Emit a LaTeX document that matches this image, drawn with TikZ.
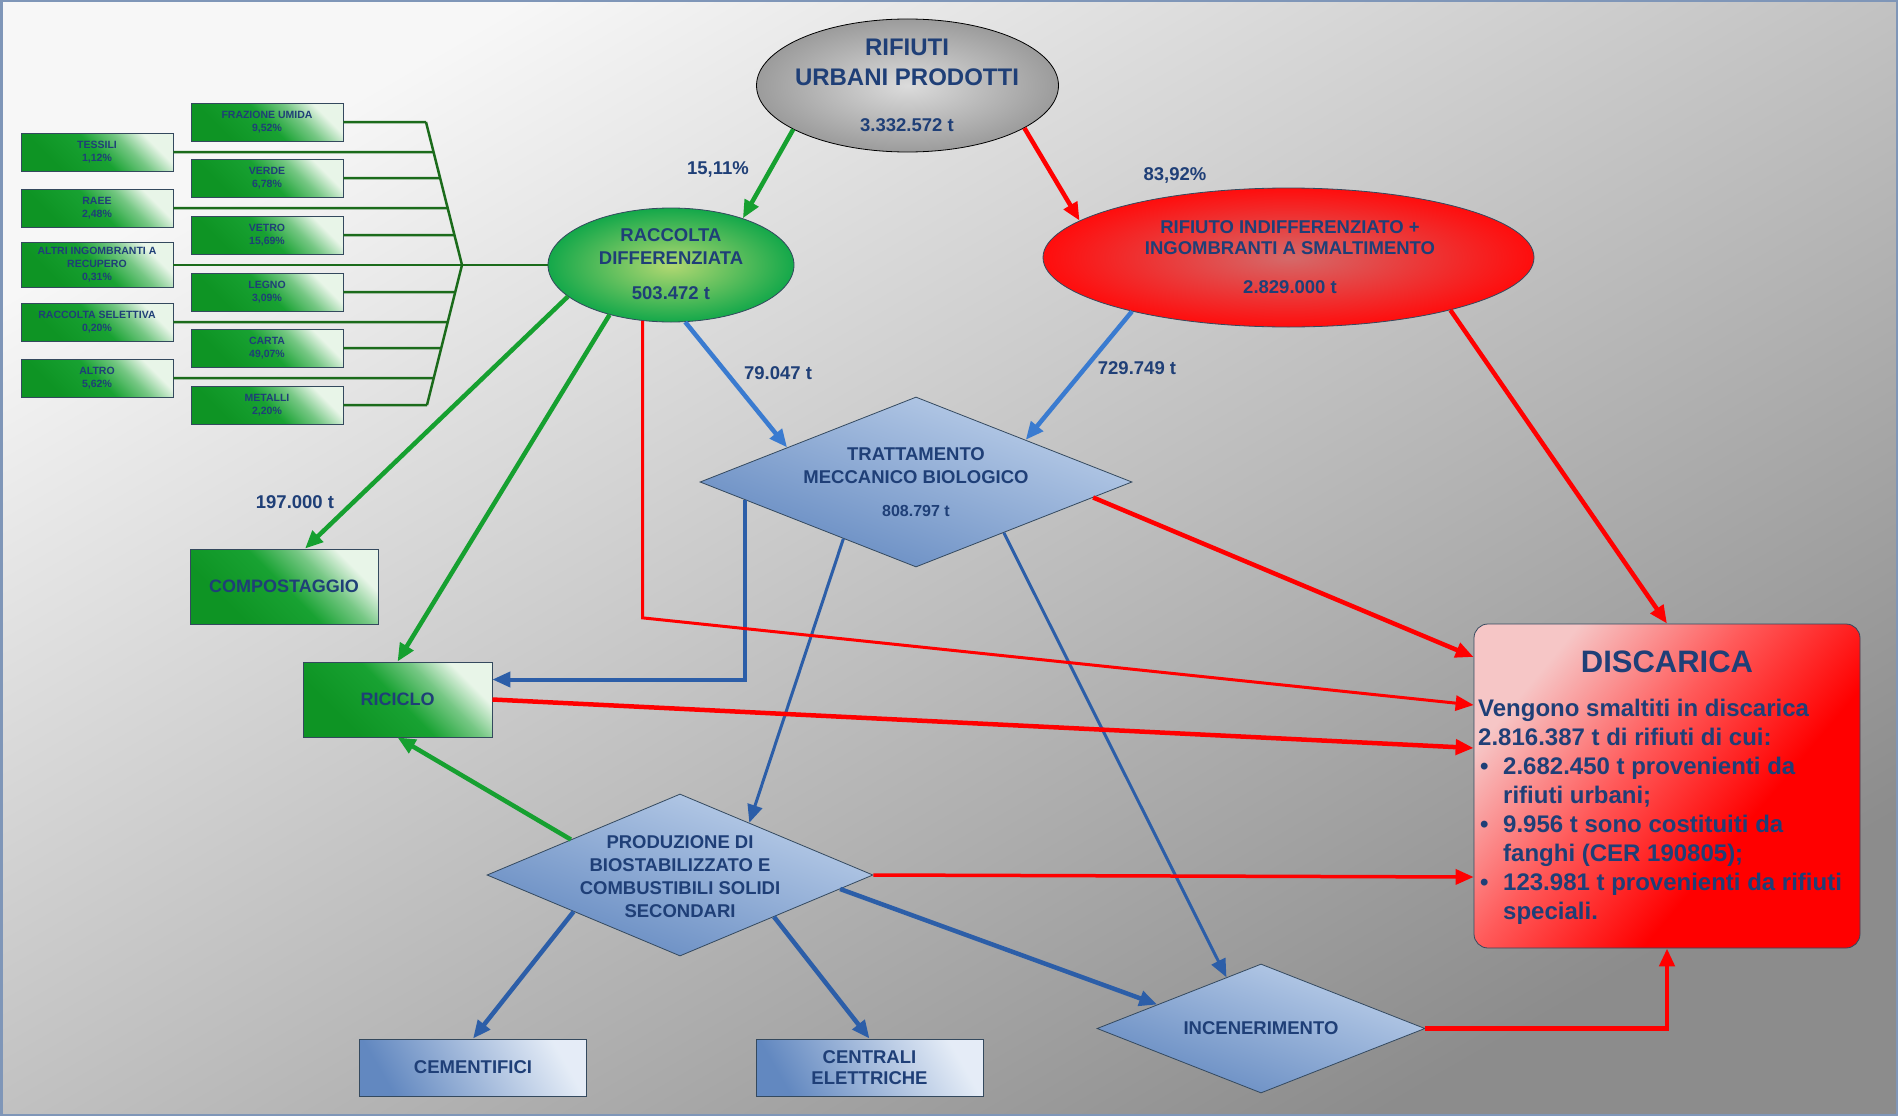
\documentclass[tikz,border=0pt]{standalone}
\usepackage{fontspec}
\setmainfont{Liberation Sans}
\usetikzlibrary{shapes.geometric,arrows.meta,calc,intersections}

\definecolor{txtBlue}{HTML}{1F3F77}
\definecolor{arrGreen}{HTML}{16A030}
\definecolor{arrRed}{HTML}{FF0000}
\definecolor{arrBlue}{HTML}{3A7BD0}
\definecolor{arrBlueD}{HTML}{2C5EA8}
\definecolor{branchGreen}{HTML}{1B6B1B}
\definecolor{boxGreen}{HTML}{18A232}
\definecolor{boxGreenD}{HTML}{0E9424}
\definecolor{boxGreenL}{HTML}{E8F5E8}
\definecolor{diaBlue}{HTML}{6288C0}
\definecolor{diaBlueL}{HTML}{BDD0EA}
\definecolor{edgeDark}{HTML}{34495E}
\definecolor{frameBlue}{HTML}{7F96B8}
\definecolor{bgLight}{HTML}{F7F7F7}
\definecolor{bgMid}{HTML}{DEDEDE}
\definecolor{bgDark}{HTML}{8C8C8C}
\definecolor{raccIn}{HTML}{B2D872}
\definecolor{raccOut}{HTML}{14A84A}
\definecolor{indIn}{HTML}{D46A6A}
\definecolor{indOut}{HTML}{FF0D0D}
\definecolor{discLight}{HTML}{F6C6C6}
\definecolor{discMid}{HTML}{FF5A5A}

% light corner only in the upper right
\pgfdeclareverticalshading{greenShade}{100bp}{color(0bp)=(boxGreenD); color(30bp)=(boxGreenD); color(50bp)=(boxGreen); color(63bp)=(boxGreen!55!boxGreenL); color(74bp)=(boxGreenL); color(100bp)=(boxGreenL)}
\pgfdeclareverticalshading{discShade}{100bp}{color(0bp)=(arrRed); color(38bp)=(arrRed); color(56bp)=(discMid); color(74bp)=(discLight); color(100bp)=(discLight)}

\begin{document}
\begin{tikzpicture}[x=1pt,y=-1pt,
  every node/.style={align=center,text=txtBlue},
  oval/.style={ellipse,inner sep=0pt,line width=0.8pt},
  greenBox/.style={draw=edgeDark,line width=0.8pt,rectangle,inner sep=0pt,shading=greenShade,shading angle=-45,font=\bfseries\fontsize{18}{21}\selectfont},
  smallBox/.style={greenBox,minimum width=152pt,minimum height=38pt,font=\bfseries\fontsize{10.5}{13}\selectfont},
  blueBox/.style={draw=edgeDark,line width=0.8pt,rectangle,inner sep=0pt,left color=diaBlue,right color=diaBlueL!40!white,shading angle=120,minimum width=227pt,minimum height=57pt,font=\bfseries\fontsize{18.5}{21}\selectfont},
  blueDiamond/.style={draw=edgeDark,line width=0.8pt,diamond,inner sep=0pt,top color=diaBlueL,bottom color=diaBlue,shading angle=-20},
  discBox/.style={draw=edgeDark,line width=0.8pt,rectangle,rounded corners=14pt,inner sep=0pt,minimum width=386pt,minimum height=324pt,shading=discShade,shading angle=50},
  txt/.style={inner sep=0pt,font=\bfseries\fontsize{18.5}{23}\selectfont},
  lbl/.style={inner sep=0pt,font=\bfseries\fontsize{18.5}{22}\selectfont},
  greenArrow/.style={->,>={Triangle[length=18pt,width=15pt]},line width=4.5pt,draw=arrGreen},
  redArrow/.style={->,>={Triangle[length=18pt,width=15pt]},line width=4.5pt,draw=arrRed},
  redMid/.style={redArrow,line width=3.5pt},
  redThin/.style={redArrow,line width=3pt},
  blueArrow/.style={->,>={Triangle[length=18pt,width=15pt]},line width=4.5pt,draw=arrBlue},
  blueDark/.style={blueArrow,draw=arrBlueD},
  blueMid/.style={blueDark,line width=4pt},
  blueThin/.style={blueDark,line width=3pt},
  branchLine/.style={line width=2.5pt,draw=branchGreen}]

  \useasboundingbox (0,0) rectangle (1898,1116);
  \shade[top color=bgLight,middle color=bgMid,bottom color=bgDark,shading angle=30] (0,0) rectangle (1898,1116);
  \draw[frameBlue,line width=2.5pt] (1.25,1.25) rectangle (1896.75,1114.75);

  % fractions of the separate collection
  \node[smallBox] (umida) at (267,122) {FRAZIONE UMIDA\\9,52\%};
  \node[smallBox] (verde) at (267,178) {VERDE\\6,78\%};
  \node[smallBox] (vetro) at (267,235) {VETRO\\15,69\%};
  \node[smallBox] (legno) at (267,292) {LEGNO\\3,09\%};
  \node[smallBox] (carta) at (267,348) {CARTA\\49,07\%};
  \node[smallBox] (metalli) at (267,405) {METALLI\\2,20\%};
  \node[smallBox] (tessili) at (97,152) {TESSILI\\1,12\%};
  \node[smallBox] (raee) at (97,208) {RAEE\\2,48\%};
  \node[smallBox,minimum height=45pt] (altriIng) at (97,265) {ALTRI INGOMBRANTI A\\RECUPERO\\0,31\%};
  \node[smallBox] (selett) at (97,322) {RACCOLTA SELETTIVA\\0,20\%};
  \node[smallBox] (altro) at (97,378) {ALTRO\\5,62\%};

  % main blocks
  \node[oval,draw=black,inner color=gray!28,outer color=gray!78,minimum width=302pt,minimum height=133pt] (rup) at (907.5,85.5) {};
  \node[oval,draw=edgeDark,inner color=raccIn,outer color=raccOut,minimum width=246pt,minimum height=114pt] (racc) at (671,265) {};
  \node[oval,draw=edgeDark,inner color=indIn,outer color=indOut,minimum width=491pt,minimum height=139pt] (ind) at (1288.5,257.5) {};
  \node[blueDiamond,minimum width=432pt,minimum height=170pt] (tmb) at (916,482) {};
  \node[blueDiamond,minimum width=386pt,minimum height=162pt] (prod) at (680,875) {};
  \node[blueDiamond,minimum width=328pt,minimum height=129pt] (inc) at (1261,1028.5) {};
  \node[greenBox,minimum width=188pt,minimum height=75pt] (compost) at (284,586.5) {COMPOSTAGGIO};
  \node[greenBox,minimum width=189pt,minimum height=75pt] (ricic) at (397.5,699.5) {RICICLO};
  \node[blueBox] (cem) at (473,1067.5) {CEMENTIFICI};
  \node[blueBox] (cent) at (869.5,1067.5) {CENTRALI\\ELETTRICHE};
  \node[discBox] (disc) at (1667,786) {};

  % texts inside the blocks
  \node[txt,font=\bfseries\fontsize{24}{30}\selectfont] (rupT) at (907,62) {RIFIUTI\\URBANI PRODOTTI};
  \node[txt] (rupV) at (907,125) {3.332.572 t};
  \node[txt] (raccT) at (671,246.5) {RACCOLTA\\DIFFERENZIATA};
  \node[txt] (raccV) at (671,293) {503.472 t};
  \node[txt,font=\bfseries\fontsize{18.5}{21}\selectfont] (indT) at (1290,237.5) {RIFIUTO INDIFFERENZIATO +\\INGOMBRANTI A SMALTIMENTO};
  \node[txt] (indV) at (1290,287) {2.829.000 t};
  \node[txt] (tmbT) at (916,465.5) {TRATTAMENTO\\MECCANICO BIOLOGICO};
  \node[txt,font=\bfseries\fontsize{16}{20}\selectfont] (tmbV) at (916,511) {808.797 t};
  \node[txt] (prodT) at (680,876.5) {PRODUZIONE DI\\BIOSTABILIZZATO E\\COMBUSTIBILI SOLIDI\\SECONDARI};
  \node[txt] (incT) at (1261,1028) {INCENERIMENTO};
  \node[txt,font=\bfseries\fontsize{31}{36}\selectfont] (discT) at (1667,662) {DISCARICA};
  \node[txt,anchor=west,align=left,font=\bfseries\fontsize{24}{29}\selectfont] (discB) at (1478,812)
    {Vengono smaltiti in discarica\\
     2.816.387 t di rifiuti di cui:\\
     \makebox[25pt][l]{\hspace{2pt}\textbullet}2.682.450 t provenienti da\\
     \hspace*{25pt}rifiuti urbani;\\
     \makebox[25pt][l]{\hspace{2pt}\textbullet}9.956 t sono costituiti da\\
     \hspace*{25pt}fanghi (CER 190805);\\
     \makebox[25pt][l]{\hspace{2pt}\textbullet}123.981 t provenienti da rifiuti\\
     \hspace*{25pt}speciali.};

  % quantities on the flows
  \node[lbl] (pRacc) at (718,169) {15,11\%};
  \node[lbl] (pInd) at (1175,175) {83,92\%};
  \node[lbl] (qTmbA) at (778,373) {79.047 t};
  \node[lbl] (qTmbB) at (1137,368) {729.749 t};
  \node[lbl] (qComp) at (295,502) {197.000 t};

  % fractions to separate collection
  \coordinate (spTop) at (426,122);
  \coordinate (apex) at (462,265);
  \coordinate (spBot) at (427,405);
  \draw[branchLine] (spTop) -- (apex) -- (spBot);
  \path[name path=spine] ($(apex)!1.05!(spTop)$) -- (apex) -- ($(apex)!1.05!(spBot)$);
  \foreach \b in {umida,tessili,verde,raee,vetro,legno,selett,carta,altro,metalli}{
    \path[name path=hline] (\b.east) -- ++(330,0);
    \draw[branchLine,name intersections={of=spine and hline}] (\b.east) -- (intersection-1);
  }
  \draw[branchLine] (altriIng.east) -- (racc.west);

  % blue flows
  \draw[blueArrow] (racc.284) -- (tmb.165);
  \draw[blueArrow] (ind.199) -- (tmb.21);
  \draw[blueMid] (tmb.186) |- ([yshift=20pt]ricic.east);
  \draw[blueThin] (tmb.218) -- (prod.37);
  \draw[blueThin] (tmb.330) -- (inc.124);
  \draw[blueDark] (prod.199) -- (cem.north);
  \draw[blueDark] (prod.336) -- (cent.north);
  \draw[blueDark] (prod.355) -- (inc.167);

  % green flows
  \draw[greenArrow] (rup.201) -- (racc.33);
  \draw[greenArrow] (racc.197) -- (compost.61);
  \draw[greenArrow] (racc.219) -- (ricic.north);
  \draw[greenArrow] (prod.162) -- (ricic.south);

  % red flows
  \draw[redArrow] (rup.340) -- (ind.170);
  \draw[redArrow] (ind.342) -- (disc.north);
  \draw[redArrow] (tmb.355) -- ([yshift=129pt]disc.west);
  \draw[redThin] (racc.243) -- ++(0,297) -- ([yshift=81pt]disc.west);
  \draw[redArrow] (ricic.east) -- ([yshift=38pt]disc.west);
  \draw[redMid] (prod.east) -- ([yshift=-91pt]disc.west);
  \draw[redArrow] (inc.east) -| (disc.south);
\end{tikzpicture}
\end{document}
